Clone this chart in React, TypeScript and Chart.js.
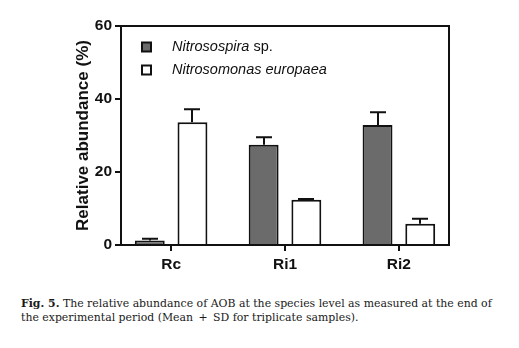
import React, { useEffect, useRef } from "react";
import { Chart, registerables } from "chart.js";

Chart.register(...registerables);

const categories = ["Rc", "Ri1", "Ri2"];
const seriesNames = ["Nitrosospira sp.", "Nitrosomonas europaea"];
const nitrosospiraMean = [1.2, 27.5, 32.9];
const nitrosospiraSD = [0.5, 2.0, 3.5];
const nitrosomonasMean = [33.6, 12.4, 5.8];
const nitrosomonasSD = [3.6, 0.2, 1.4];
const yTicks = [0, 20, 40, 60];

const FONT = "'Liberation Sans', Arial, sans-serif";

const boxPlugin = {
  id: "box",
  afterDraw(chart: any) {
    const { ctx, chartArea } = chart;
    ctx.save();
    ctx.strokeStyle = "#111";
    ctx.lineWidth = 2;
    ctx.beginPath();
    ctx.moveTo(chartArea.left, chartArea.top);
    ctx.lineTo(chartArea.right, chartArea.top);
    ctx.lineTo(chartArea.right, chartArea.bottom);
    ctx.stroke();
    ctx.restore();
  },
};

const errorBarPlugin = {
  id: "errorBars",
  afterDatasetsDraw(chart: any) {
    const { ctx } = chart;
    const yScale = chart.scales.y;
    ctx.save();
    ctx.strokeStyle = "#111";
    ctx.lineWidth = 2;
    chart.data.datasets.forEach((ds: any, i: number) => {
      const meta = chart.getDatasetMeta(i);
      meta.data.forEach((bar: any, j: number) => {
        const mean = ds.data[j].y;
        const sd = ds.sd[j];
        const top = yScale.getPixelForValue(mean + sd);
        const x = Math.round(bar.x);
        ctx.beginPath();
        ctx.moveTo(x, bar.y);
        ctx.lineTo(x, top);
        ctx.moveTo(x - 8, top);
        ctx.lineTo(x + 8, top);
        ctx.stroke();
      });
    });
    ctx.restore();
  },
};

const legendPlugin = {
  id: "insideLegend",
  afterDraw(chart: any) {
    const { ctx, chartArea } = chart;
    ctx.save();
    chart.data.datasets.forEach((ds: any, i: number) => {
      const cy = chartArea.top + 21 + i * 23;
      const sx = chartArea.left + 21;
      ctx.fillStyle = ds.backgroundColor;
      ctx.strokeStyle = "#111";
      ctx.lineWidth = 2;
      ctx.fillRect(sx, cy - 4.5, 9, 9);
      ctx.strokeRect(sx, cy - 4.5, 9, 9);
      let tx = chartArea.left + 51;
      ctx.fillStyle = "#111";
      ctx.textBaseline = "middle";
      const words = String(ds.label).split(" ");
      words.forEach((w: string, k: number) => {
        const italic = w !== "sp.";
        ctx.font = `${italic ? "italic " : ""}14.5px ${FONT}`;
        const text = (k > 0 ? " " : "") + w;
        ctx.fillText(text, tx, cy);
        tx += ctx.measureText(text).width;
      });
    });
    ctx.restore();
  },
};

export default function App() {
  const ref = useRef<HTMLCanvasElement>(null);
  useEffect(() => {
    if (!ref.current) return;
    const chart = new Chart(ref.current, {
      type: "bar",
      data: {
        datasets: [
          {
            label: seriesNames[0],
            data: categories.map((_, i) => ({ x: i, y: nitrosospiraMean[i] })),
            sd: nitrosospiraSD,
            backgroundColor: "#6b6b6b",
            borderColor: "#111",
            borderWidth: 2,
          } as any,
          {
            label: seriesNames[1],
            data: categories.map((_, i) => ({ x: i, y: nitrosomonasMean[i] })),
            sd: nitrosomonasSD,
            backgroundColor: "#ffffff",
            borderColor: "#111",
            borderWidth: 2,
          } as any,
        ],
      },
      options: {
        animation: false,
        responsive: false,
        maintainAspectRatio: false,
        datasets: { bar: { barPercentage: 0.7, categoryPercentage: 0.75 } },
        layout: { padding: { left: 55, right: 62, top: 18, bottom: 0 } },
        plugins: { legend: { display: false }, tooltip: { enabled: false } },
        scales: {
          x: {
            type: "linear",
            min: -0.44,
            max: 2.44,
            offset: false,
            afterBuildTicks: (scale: any) => {
              scale.ticks = categories.map((_, i) => ({ value: i }));
            },
            afterFit: (scale: any) => {
              scale.height = 45;
            },
            grid: {
              offset: false,
              drawOnChartArea: false,
              drawTicks: true,
              tickLength: 6,
              color: "#111",
              lineWidth: 2,
            },
            border: { display: true, color: "#111", width: 2 },
            ticks: {
              color: "#111",
              padding: 4,
              font: { family: FONT, size: 15.5, weight: "bold" },
              callback: (v: any) => categories[v] ?? "",
            },
          },
          y: {
            min: 0,
            max: 60,
            afterBuildTicks: (scale: any) => {
              scale.ticks = yTicks.map((v) => ({ value: v }));
            },
            afterFit: (scale: any) => {
              scale.width = 58;
            },
            grid: {
              drawOnChartArea: false,
              drawTicks: true,
              tickLength: 6,
              color: "#111",
              lineWidth: 2,
            },
            border: { display: true, color: "#111", width: 2 },
            ticks: {
              color: "#111",
              padding: 3,
              font: { family: FONT, size: 15.5, weight: "bold" },
            },
            title: {
              display: true,
              text: "Relative abundance (%)",
              color: "#111",
              padding: { top: 10, bottom: 0 },
              font: { family: FONT, size: 17, weight: "bold" },
            },
          },
        },
      } as any,
      plugins: [boxPlugin, errorBarPlugin, legendPlugin],
    });
    return () => chart.destroy();
  }, []);

  return (
    <div style={{ width: 503 }}>
      <canvas ref={ref} width={503} height={282} style={{ display: "block" }} />
      <div
        style={{
          marginTop: 7,
          paddingLeft: 13,
          fontFamily: "'DejaVu Serif', serif",
          fontSize: 10.9,
          lineHeight: "13.5px",
          color: "#1a1a1a",
          whiteSpace: "nowrap",
        }}
      >
        <b>Fig. 5.</b> The relative abundance of AOB at the species level as measured at the end of
        <br />
        the experimental period (Mean{"\u2002"}+{"\u2002"}SD for triplicate samples).
      </div>
    </div>
  );
}
